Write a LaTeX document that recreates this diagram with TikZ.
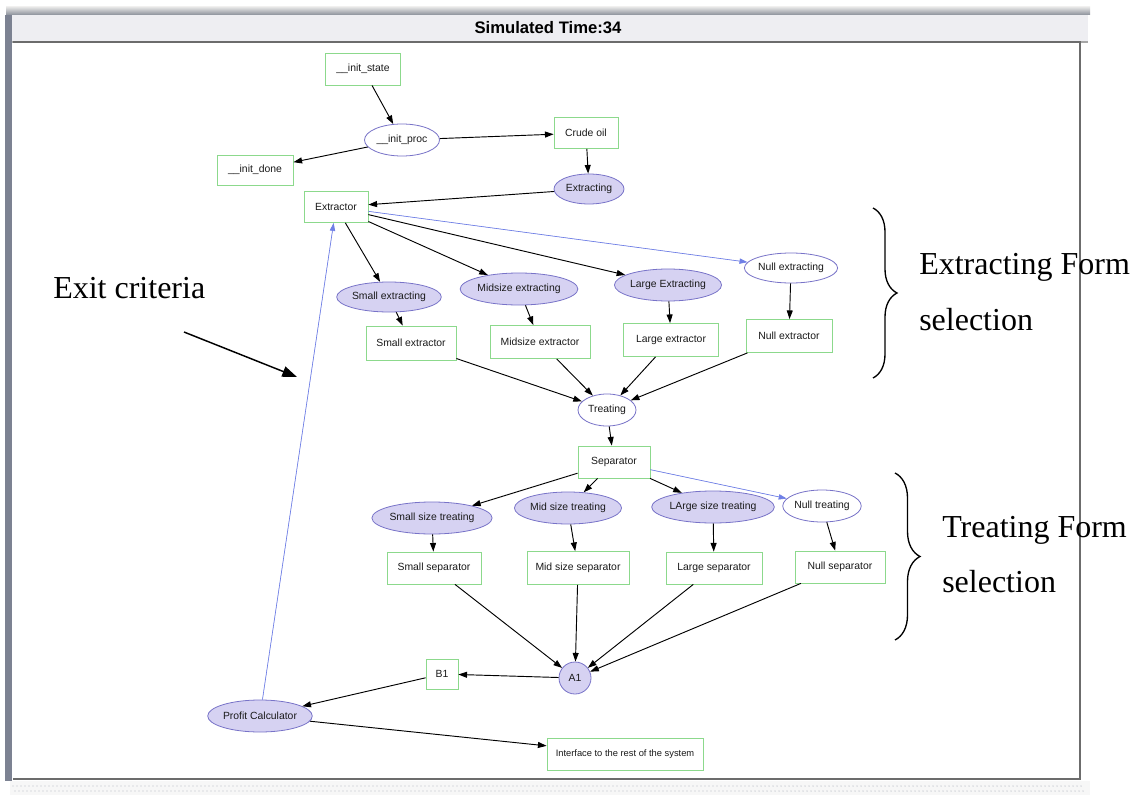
\documentclass[tikz,border=0pt]{standalone}
\usepackage{fontspec}
\setmainfont{Liberation Serif}
\newfontfamily\gfontfam{Liberation Sans}
\usetikzlibrary{shapes.geometric,arrows.meta,decorations.pathreplacing}

\definecolor{boxgreen}{HTML}{8CD98C}
\definecolor{ellline}{HTML}{7873C8}
\definecolor{ellfill}{HTML}{D6D2F2}
\definecolor{edgeblue}{HTML}{6F7FE6}
\definecolor{labeltxt}{HTML}{1A1A1A}
\definecolor{framegray}{HTML}{8A8F99}
\definecolor{barfill}{HTML}{EEEEF2}
\definecolor{sidebar}{HTML}{7C8292}
\definecolor{dotgray}{HTML}{B8BEC6}

\newcommand\gfont{\gfontfam\fontsize{7.8}{9}\selectfont}
\newcommand\gfontsmall{\gfontfam\fontsize{7}{8}\selectfont}
\newcommand\titlefont{\gfontfam\bfseries\fontsize{12.5}{14}\selectfont}
\newcommand\annfont{\fontsize{24}{28}\selectfont}

\begin{document}
\begin{tikzpicture}[x=0.75pt,y=-0.75pt,
  bx/.style 2 args={rectangle, draw=boxgreen, fill=white, line width=0.6pt,
    minimum width={#1*0.75pt}, minimum height={#2*0.75pt}, inner sep=0pt,
    font=\gfont, text=labeltxt},
  el/.style 2 args={ellipse, draw=ellline, fill=white, line width=0.6pt,
    minimum width={#1*0.75pt}, minimum height={#2*0.75pt}, inner sep=0pt,
    font=\gfont, text=labeltxt},
  elf/.style 2 args={el={#1}{#2}, fill=ellfill},
  ed/.style={-{Triangle[length=6.5pt,width=4.5pt]}, line width=0.7pt, draw=black},
  edb/.style={-{Triangle[length=6pt,width=4pt]}, line width=0.5pt, draw=edgeblue, fill=edgeblue},
  ann/.style={font=\annfont, anchor=base west, inner sep=0pt},
  bracestyle/.style={decorate, decoration={brace, amplitude=#1*0.75pt}, line width=1pt},
]
\useasboundingbox (0,0) rectangle (1135,795);
\fill[white] (0,0) rectangle (1135,795);

% ---- window chrome ----
\shade[top color=white!80!gray, bottom color=framegray] (6,7) rectangle (1090,15);
\fill[barfill] (8,15) rectangle (1088,41);
\draw[gray!70, line width=1.2pt] (8,42) -- (1088,42);
\fill[sidebar] (5,15) rectangle (12,781);
\draw[gray!85!black, line width=1.2pt] (13,42) -- (1080,42) -- (1080,779) -- (13,779);
\fill[gray!6] (10,781) rectangle (1090,795);
\foreach \i in {0,...,267}{
  \fill[dotgray] (13+\i*4,786) circle (0.55pt);
  \fill[dotgray] (15+\i*4,791) circle (0.55pt);
}
\node[font=\titlefont] (title) at (548,28) {Simulated Time:34};

% ---- states and processes ----
\node[bx={75}{32}]  (ist)   at (363,69)  {\_\_init\_state};
\node[el={75}{32}]  (ipr)   at (402,140) {\_\_init\_proc};
\node[bx={64}{31}]  (crude) at (586,133) {Crude oil};
\node[bx={76}{30}]  (idone) at (255,170) {\_\_init\_done};
\node[elf={70}{30}] (extg)  at (589,189) {Extracting};
\node[bx={64}{31}]  (extr)  at (336,207) {Extractor};

\node[el={84}{30}]  (nulx)  at (791,268) {Null extracting};
\node[elf={88}{30}] (smx)   at (389,297) {Small extracting};
\node[elf={98}{32}] (midx)  at (519,289) {Midsize extracting};
\node[elf={90}{32}] (lgx)   at (668,285) {Large Extracting};

\node[bx={90}{34}]  (smr)   at (411,343) {Small extractor};
\node[bx={100}{33}] (midr)  at (540,342) {Midsize extractor};
\node[bx={95}{33}]  (lgr)   at (671,340) {Large extractor};
\node[bx={86}{33}]  (nulr)  at (789,336) {Null extractor};

\node[el={58}{32}]  (treat) at (607,410) {Treating};
\node[bx={72}{32}]  (sep)   at (614,462) {Separator};

\node[elf={108}{32}] (sst)  at (432,518) {Small size treating};
\node[elf={94}{32}]  (mst)  at (568,508) {Mid size treating};
\node[elf={110}{32}] (lst)  at (713,507) {LArge size treating};
\node[el={78}{32}]   (nst)  at (822,506) {Null treating};

\node[bx={94}{32}]  (ssp)   at (434,568) {Small separator};
\node[bx={102}{33}] (msp)   at (578,568) {Mid size separator};
\node[bx={96}{32}]  (lsp)   at (714,568) {Large separator};
\node[bx={90}{32}]  (nsp)   at (840,567) {Null separator};

\node[circle, draw=ellline, fill=ellfill, line width=0.6pt, minimum size={32*0.75pt},
      inner sep=0pt, font=\gfont, text=labeltxt] (a1) at (575,678) {A1};
\node[bx={32}{30}]   (b1)   at (442,674) {B1};
\node[elf={102}{32}] (prof) at (260,716) {Profit Calculator};
\node[bx={156}{32}, font=\gfontsmall] (intf) at (625,754) {Interface to the rest of the system};

% ---- connectors ----
\draw[ed] (ist) -- (ipr);
\draw[ed] (ipr) -- (crude);
\draw[ed] (ipr) -- (idone);
\draw[ed] (crude) -- (extg);
\draw[ed] (extg) -- (extr);
\draw[ed] (extr) -- (smx);
\draw[ed] (extr) -- (midx);
\draw[ed] (extr) -- (lgx);
\draw[edb] (extr) -- (nulx);
\draw[ed] (smx) -- (smr);
\draw[ed] (midx) -- (midr);
\draw[ed] (lgx) -- (lgr);
\draw[ed] (nulx) -- (nulr);
\draw[ed] (smr) -- (treat);
\draw[ed] (midr) -- (treat);
\draw[ed] (lgr) -- (treat);
\draw[ed] (nulr) -- (treat);
\draw[ed] (treat) -- (sep);
\draw[ed] (sep) -- (sst);
\draw[ed] (sep) -- (mst);
\draw[ed] (sep) -- (lst);
\draw[edb] (sep) -- (nst);
\draw[ed] (sst) -- (ssp);
\draw[ed] (mst) -- (msp);
\draw[ed] (lst) -- (lsp);
\draw[ed] (nst) -- (nsp);
\draw[ed] (ssp) -- (a1);
\draw[ed] (msp) -- (a1);
\draw[ed] (lsp) -- (a1);
\draw[ed] (nsp) -- (a1);
\draw[ed] (a1) -- (b1);
\draw[ed] (b1) -- (prof);
\draw[ed] (prof) -- (intf);
\draw[edb] (prof) -- (extr);

% ---- annotations ----
\node[ann] (exitlbl) at (53,298) {Exit criteria};
\coordinate (exitTail) at (184,332);
\coordinate (exitHead) at (297,377);
\draw[-{Triangle[length=11pt,width=8pt]}, line width=1.1pt] (exitTail) -- (exitHead);

\coordinate (b1top) at (873,208);
\coordinate (b1bot) at (873,378);
\draw[bracestyle=24] (b1top) -- (b1bot);
\node[ann] (extlbl1) at (919,274) {Extracting Form};
\node[ann] (extlbl2) at (919,330) {selection};

\coordinate (b2top) at (895,473);
\coordinate (b2bot) at (895,640);
\draw[bracestyle=25] (b2top) -- (b2bot);
\node[ann] (trtlbl1) at (942,537) {Treating Form};
\node[ann] (trtlbl2) at (942,592) {selection};
\end{tikzpicture}
\end{document}
